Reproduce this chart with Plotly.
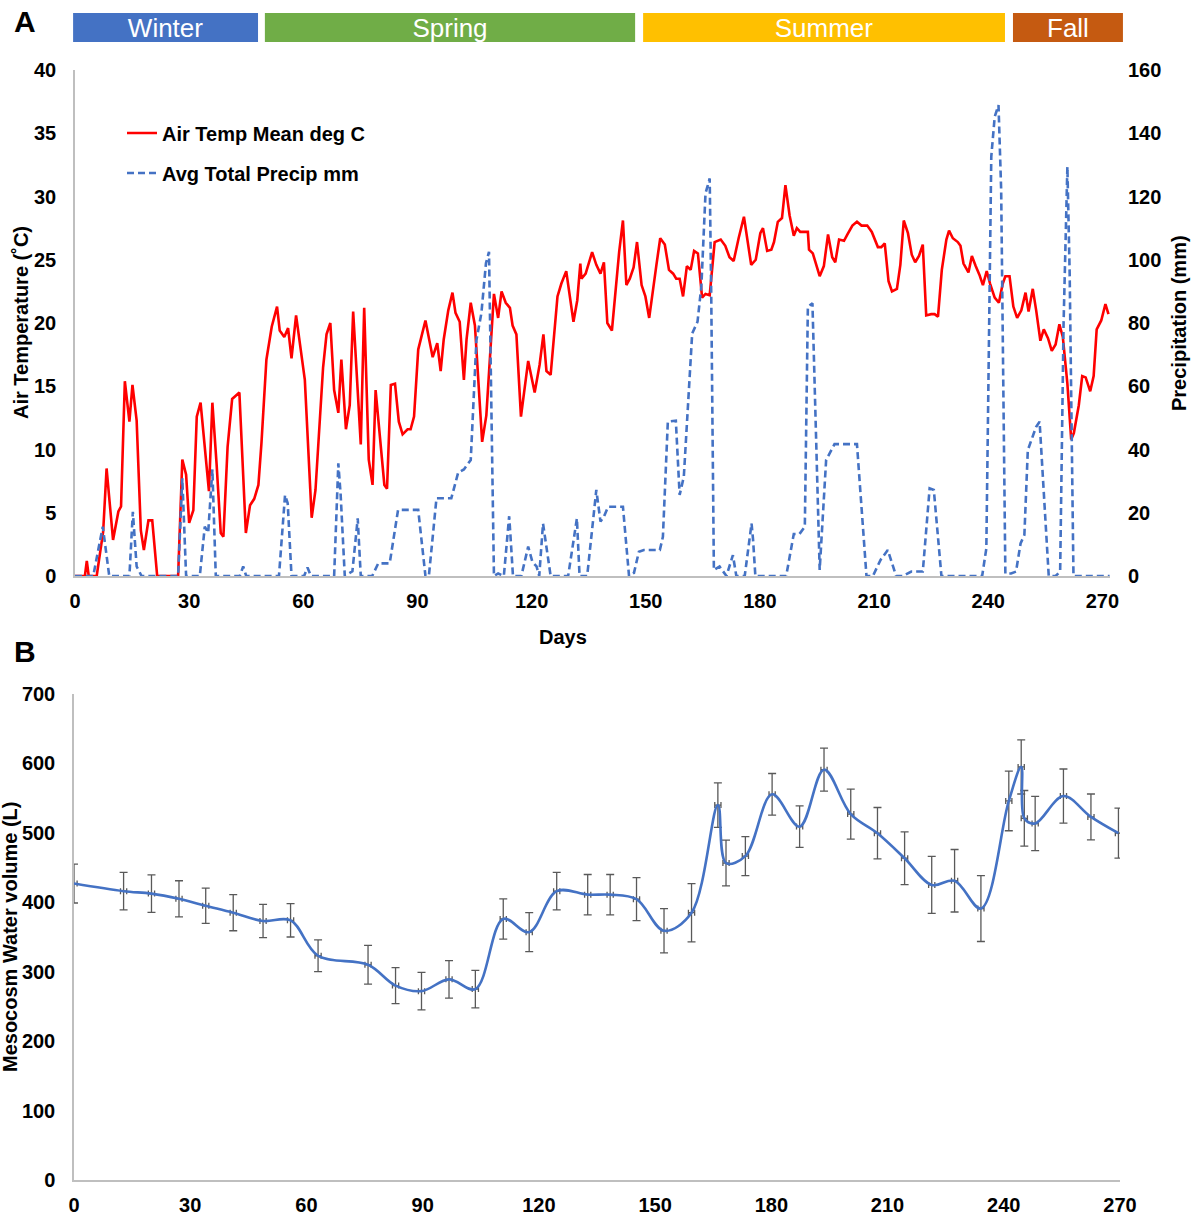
import plotly.graph_objects as go

PAGE_W, PAGE_H = 1195, 1218
W, H = PAGE_W, PAGE_H

# ---------------- data ----------------
temp_day = [0, 2.6, 3.1, 3.6, 5.7, 7.4, 8.3, 10.0, 11.4, 12.1, 13.1, 14.3, 15.1, 16.2, 17.3, 18.1, 19.3, 20.3, 21.6,
            27.1, 28.2, 29.2, 30.0, 31.1, 32.0, 33.0, 35.2, 36.1, 37.2, 38.3, 39.0, 40.1, 41.3, 43.2, 44.9, 46.0,
            47.1, 48.2, 49.0, 50.3, 51.7, 53.1, 53.8, 55.0, 56.0, 56.9, 58.1, 60.4, 62.2, 63.2, 65.2, 66.1, 67.1,
            68.1, 69.2, 70.0, 71.2, 72.2, 73.1, 75.1, 76.0, 77.2, 78.2, 79.0, 81.3, 82.0, 83.0, 84.1, 85.1, 86.1,
            87.4, 88.2, 89.1, 90.2, 92.1, 94.0, 95.2, 96.1, 96.9, 98.1, 99.2, 100.0, 101.1, 102.2, 102.9, 104.0,
            105.1, 107.0, 108.1, 109.0, 110.1, 111.2, 112.1, 113.2, 114.3, 115.0, 116.0, 117.2, 119.1, 120.8,
            122.1, 123.1, 123.9, 125.0, 126.8, 127.8, 129.1, 131.0, 132.0, 132.8, 133.1, 134.2, 135.9, 137.0,
            138.1, 139.0, 139.9, 141.1, 143.0, 144.0, 144.9, 145.8, 146.8, 147.7, 148.9, 149.9, 150.9, 152.8,
            153.8, 155.0, 156.1, 157.2, 158.0, 158.9, 159.8, 160.8, 161.8, 162.7, 163.7, 164.8, 165.7, 166.8,
            168.1, 169.7, 170.9, 172.0, 173.1, 174.4, 175.8, 177.7, 178.9, 180.1, 180.8, 181.9, 183.0, 183.7,
            184.7, 185.8, 186.7, 187.8, 188.9, 189.7, 190.6, 192.6, 192.9, 193.9, 195.7, 196.8, 197.9, 199.0,
            199.8, 200.8, 202.1, 203.0, 204.3, 205.5, 206.7, 208.2, 209.4, 211.0, 211.9, 212.8, 213.8, 214.7,
            216.0, 216.9, 217.8, 218.9, 219.9, 220.8, 221.8, 222.8, 223.7, 225.0, 225.9, 226.8, 227.8, 229.0,
            229.7, 230.7, 232.0, 232.7, 233.5, 234.8, 235.7, 236.7, 237.7, 238.6, 239.6, 240.5, 241.7, 242.8,
            243.8, 244.5, 245.6, 246.6, 247.6, 248.7, 249.8, 250.6, 251.7, 252.6, 253.7, 254.6, 255.7, 256.7,
            257.7, 258.7, 259.6, 260.8, 261.8, 262.5, 263.8, 264.7, 265.6, 266.8, 267.7, 268.5, 269.7, 270.8,
            271.6]
temp_c = [0, 0, 1.2, 0, 0, 3.5, 8.5, 2.85, 5.1, 5.5, 15.4, 12.2, 15.1, 12.3, 3.6, 2.05, 4.4, 4.4, 0,
          0, 9.2, 8.0, 4.2, 5.2, 12.6, 13.7, 6.7, 13.7, 8.9, 3.4, 3.1, 10.2, 14.0, 14.5, 3.4, 5.6,
          6.1, 7.2, 10.5, 17.1, 19.7, 21.3, 19.4, 18.9, 19.6, 17.2, 20.6, 15.5, 4.6, 6.8, 16.5, 19.1, 20.0,
          14.7, 12.9, 17.1, 11.6, 13.5, 20.9, 10.4, 21.2, 9.2, 7.2, 14.7, 7.2, 6.9, 15.1, 15.2, 12.2, 11.2,
          11.6, 11.6, 12.6, 17.9, 20.2, 17.3, 18.4, 16.2, 18.7, 21.0, 22.4, 20.8, 20.1, 15.5, 18.7, 21.6,
          19.8, 10.6, 12.7, 16.8, 22.3, 20.4, 22.5, 21.6, 21.2, 19.8, 19.1, 12.6, 17.0, 14.5,
          16.7, 19.1, 16.2, 15.9, 22.1, 23.1, 24.1, 20.1, 21.8, 24.7, 23.5, 23.9, 25.6, 24.6,
          23.9, 24.8, 20.0, 19.4, 25.6, 28.1, 23.0, 23.5, 24.4, 26.4, 23.0, 22.1, 20.4, 24.6,
          26.7, 26.2, 24.2, 23.9, 23.5, 23.5, 22.1, 24.5, 24.2, 25.7, 25.5, 22.0, 22.3, 22.2,
          26.4, 26.6, 26.1, 25.2, 24.9, 26.7, 28.4, 24.6, 25.0, 27.1, 27.5, 25.7, 25.8, 26.4,
          28.0, 28.3, 30.9, 28.5, 26.9, 27.5, 27.2, 27.2, 25.8, 25.5, 23.7, 24.5, 27.0, 25.2,
          24.8, 26.6, 26.5, 27.0, 27.7, 28.0, 27.7, 27.7, 27.2, 26.0, 26.0, 26.3, 23.3, 22.5,
          22.7, 24.6, 28.1, 27.1, 25.4, 24.8, 25.3, 26.2, 20.6, 20.7, 20.7, 20.5, 24.2, 26.6,
          27.3, 26.7, 26.4, 26.1, 24.7, 24.0, 25.3, 24.5, 23.8, 23.0, 24.1, 23.1, 22.0, 21.6,
          23.1, 23.7, 23.7, 21.3, 20.4, 21.0, 22.4, 20.9, 22.7, 21.0, 18.6, 19.5, 18.8, 17.8,
          18.3, 19.9, 18.9, 15.2, 10.8, 11.3, 13.5, 15.8, 15.7, 14.6, 15.8, 19.5, 20.2, 21.5,
          20.7]

precip_day = [0, 4.8, 6.1, 7.3, 9.0, 14.3, 15.2, 16.2, 17.5, 27.1, 28.2, 29.2, 32.8, 34.1, 35.0, 36.1, 37.0,
              43.3, 44.2, 45.0, 53.6, 55.2, 55.9, 56.9, 60.2, 61.1, 62.0, 68.1, 69.2, 69.8, 70.9, 72.9, 74.3,
              75.1, 78.1, 79.7, 82.7, 84.9, 90.2, 92.1, 93.0, 95.0, 98.9, 100.7, 102.2, 104.0, 105.5, 106.8,
              108.0, 108.8, 110.1, 111.2, 112.7, 114.1, 114.4, 115.1, 117.3, 119.1, 120.2, 121.3, 122.0, 123.0,
              125.0, 129.6, 131.9, 132.6, 134.6, 137.0, 138.1, 139.0, 140.1, 144.0, 145.6, 146.9, 148.2, 149.5,
              153.7, 154.5, 155.8, 157.9, 158.9, 160.0, 162.2, 163.6, 164.6, 165.7, 166.2, 166.8, 167.2, 167.9,
              169.4, 171.2, 172.9, 173.8, 176.0, 177.8, 178.2, 178.8, 186.9, 188.9, 190.4, 191.8, 192.6, 193.8,
              195.7, 197.4, 199.6, 205.5, 208.0, 209.7, 211.7, 213.6, 215.8, 217.6, 219.8, 222.8, 224.6, 225.7,
              227.7, 238.4, 239.5, 240.8, 241.7, 242.7, 243.4, 244.5, 246.0, 247.3, 248.5, 249.5, 250.4, 251.6,
              252.6, 253.5, 255.9, 257.7, 258.9, 259.8, 260.8, 261.4, 262.4, 271.9]
precip_mm = [0, 0, 8.2, 15.6, 0, 0, 20.3, 3, 0, 0, 30.9, 0, 0, 15.6, 13.7, 33.7, 0,
             0, 3, 0, 0, 25.6, 23, 0, 0, 2.7, 0, 0, 35.6, 26, 0, 1.5, 18.2,
             0, 0, 4, 4, 20.9, 20.9, 0, 0, 24.6, 24.6, 32.7, 33.7, 36.7, 74.6, 83.1,
             98.9, 102.5, 0, 0.8, 0, 18.9, 13.5, 0, 0, 9.3, 4.5, 3, 0, 16.6,
             0, 0, 18.2, 0, 0, 27.2, 17.2, 18.8, 21.9, 21.9, 0, 1, 7.7, 8.2,
             8.2, 12.4, 48.8, 49.1, 25.6, 31.4, 76.7, 80.4, 91.5, 121, 123.1, 125.7, 89.4, 1.9,
             3, 0, 6.6, 0, 0, 16.6, 11.4, 0, 0, 13.3, 13.3, 15.6, 85.2, 86.2,
             1.9, 36.7, 41.7, 41.7, 0, 0, 5.1, 8.2, 0, 0, 1.4, 1.4, 27.7, 27.2,
             0, 0, 8.7, 132.6, 145.2, 148.9, 122, 0.8, 0.8, 1.4, 10.3, 13, 39.8, 44,
             47.2, 48.8, 0, 0, 1.4, 79.9, 129.4, 95.7, 0, 0]

vol_day = [0, 12.8, 20, 27.1, 34, 41.1, 48.8, 55.9, 63, 75.9, 83, 89.7, 96.8, 103.6, 110.8, 117.5,
           124.6, 132.6, 138.4, 145.2, 152.3, 159.4, 166.2, 168.3, 173.3, 180.2, 187.3, 193.6, 200.5,
           207.4, 214.4, 221.4, 227.3, 234.1, 241.3, 244.5, 245.3, 248.1, 255.4, 262.5, 269.6]
vol_l = [427, 416, 412.5, 405, 395, 385, 373, 374, 323, 310, 280, 272, 289, 275, 376, 357,
         416, 411, 411, 404.5, 359, 385, 540, 456.5, 466.5, 555.5, 509, 591, 527,
         499.5, 463.5, 425, 431, 391, 546, 595, 521, 513.5, 553, 523, 499.5]
vol_err = [28, 27, 27, 26, 25.5, 26, 24, 24, 23, 28, 26, 27, 27, 27, 29, 28,
           27, 29, 29, 31, 32, 42, 32, 33, 28, 30, 30, 31, 36,
           37, 38, 41, 45, 47.5, 43, 39, 40, 39, 39, 33, 36]

season_names = ["Winter", "Spring", "Summer", "Fall"]
season_start = [-0.5, 49.9, 149.3, 246.5]
season_end = [48.1, 147.2, 244.4, 275.4]
season_colors = ["#4472C4", "#70AD47", "#FFC000", "#C55A11"]

# ---------------- layout helpers (page pixel -> paper fraction) ----------------
def fx(p):
    return p / W

def fy(p):
    return 1 - p / H

FONT = "Liberation Sans, Arial, sans-serif"
AXIS_GRAY = "#BFBFBF"
FS = 20
tickfont = dict(family=FONT, size=FS, color="black", weight="bold")

# panel A plot area (page px)
A_L, A_R, A_T, A_B = 75, 1110, 70, 576
A_XMAX = 272
# panel B plot area (page px)
B_L, B_R, B_T, B_B = 74, 1120, 694, 1180
# season strip (page px)
S_L, S_R, S_T, S_B = 70, 1130, 13, 42
k = (A_R - A_L) / A_XMAX

fig = go.Figure()

fig.add_trace(go.Bar(
    orientation="h", y=[0] * len(season_names),
    x=[e - s for s, e in zip(season_start, season_end)], base=season_start,
    marker=dict(color=season_colors, line=dict(width=0)), width=1,
    text=season_names, textposition="inside", insidetextanchor="middle",
    textangle=0, constraintext="none",
    insidetextfont=dict(family=FONT, size=26, color="white"),
    xaxis="x3", yaxis="y4", showlegend=False, hoverinfo="skip"))

fig.add_trace(go.Scatter(
    x=temp_day, y=temp_c, mode="lines", name="Air Temp Mean deg C",
    line=dict(color="#FF0000", width=2.6), xaxis="x", yaxis="y", legend="legend"))

fig.add_trace(go.Scatter(
    x=precip_day, y=precip_mm, mode="lines", name="Avg Total Precip mm",
    line=dict(color="#4472C4", width=2.6, dash="7px,4px"), xaxis="x", yaxis="y2", legend="legend2"))

fig.add_trace(go.Scatter(
    x=vol_day, y=vol_l, mode="lines", line=dict(color="#4472C4", width=2.6, shape="spline", smoothing=1.0),
    error_y=dict(type="data", array=vol_err, visible=True, color="#595959", thickness=1.3, width=4),
    error_x=dict(type="constant", value=0.8, visible=True, color="#595959", thickness=1.3, width=3),
    xaxis="x2", yaxis="y3", showlegend=False))

common_axis = dict(showgrid=False, zeroline=False, ticks="", tickfont=tickfont,
                   showline=True, linecolor=AXIS_GRAY, linewidth=1.5)

legend_font = dict(family=FONT, size=FS, color="black", weight="bold")

fig.update_layout(
    width=W, height=H, template="none",
    paper_bgcolor="white", plot_bgcolor="white",
    margin=dict(l=0, r=0, t=0, b=0, autoexpand=False),
    font=dict(family=FONT, color="black"),
    xaxis=dict(domain=[fx(A_L), fx(A_R)], range=[0, A_XMAX], tickmode="array",
               tickvals=list(range(0, 271, 30)), anchor="y", ticklabelstandoff=6, **common_axis),
    yaxis=dict(domain=[fy(A_B), fy(A_T)], range=[0, 40], dtick=5, anchor="x",
               ticklabelstandoff=13, **common_axis),
    yaxis2=dict(domain=[fy(A_B), fy(A_T)], range=[0, 160], dtick=20, anchor="x", overlaying="y",
                side="right", showgrid=False, zeroline=False, ticks="", tickfont=tickfont,
                showline=False, ticklabelstandoff=17),
    xaxis2=dict(domain=[fx(B_L), fx(B_R)], range=[0, 270], tickmode="array",
                tickvals=list(range(0, 271, 30)), anchor="y3", ticklabelstandoff=6, **common_axis),
    yaxis3=dict(domain=[fy(B_B), fy(B_T)], range=[0, 700], dtick=100, anchor="x2",
                ticklabelstandoff=13, **common_axis),
    xaxis3=dict(domain=[fx(S_L), fx(S_R)], range=[(S_L - A_L) / k, (S_R - A_L) / k],
                visible=False, anchor="y4"),
    yaxis4=dict(domain=[fy(S_B), fy(S_T)], range=[-0.5, 0.5], visible=False, anchor="x3"),
    barmode="overlay",
    legend=dict(x=fx(122), y=fy(133), xanchor="left", yanchor="middle", bgcolor="rgba(0,0,0,0)",
                font=legend_font),
    legend2=dict(x=fx(122), y=fy(173), xanchor="left", yanchor="middle", bgcolor="rgba(0,0,0,0)",
                 font=legend_font),
)

ann_font = dict(family=FONT, size=FS, color="black", weight="bold")
panel_font = dict(family=FONT, size=30, color="black", weight="bold")
annotations = [
    dict(text="A", x=fx(25), y=fy(21), font=panel_font),
    dict(text="B", x=fx(25), y=fy(651), font=panel_font),
    dict(text="Air Temperature (˚C)", x=fx(21), y=fy(323), textangle=-90, font=ann_font),
    dict(text="Precipitation (mm)", x=fx(1179), y=fy(323), textangle=-90, font=ann_font),
    dict(text="Days", x=fx(563), y=fy(637), font=ann_font),
    dict(text="Mesocosm Water volume (L)", x=fx(10), y=fy(937), textangle=-90, font=ann_font),
]
for a in annotations:
    a.update(xref="paper", yref="paper", showarrow=False, xanchor="center", yanchor="middle")
fig.update_layout(annotations=annotations)

# remove the browser's default page margin so the figure fills the window exactly
fig.write_html("out.html", config={"displayModeBar": False},
               post_script="document.body.style.margin='0';")
